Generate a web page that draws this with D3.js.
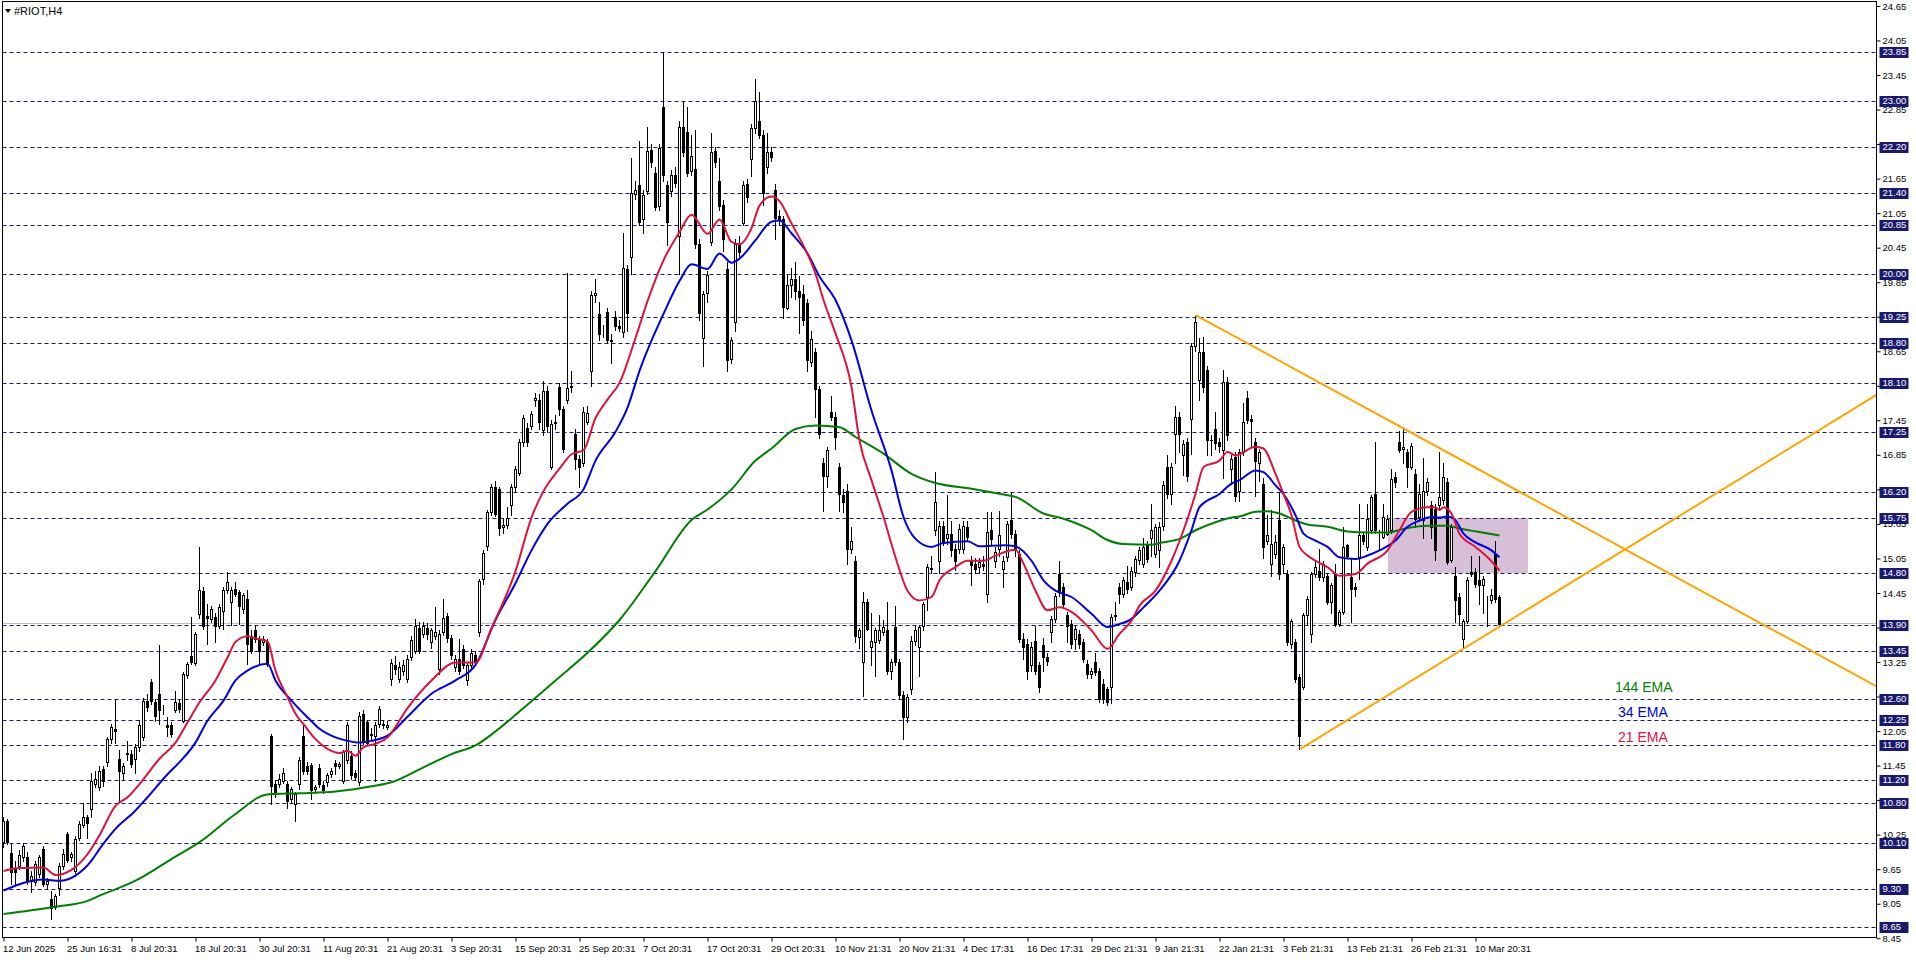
<!DOCTYPE html>
<html><head><meta charset="utf-8">
<script src="https://cdn.jsdelivr.net/npm/d3@7"></script>
<style>
html,body{margin:0;padding:0;background:#fff;overflow:hidden}
svg{display:block}
text{font-family:"Liberation Sans",Arial,sans-serif}
</style></head><body>
<svg id="c" width="1916" height="963"></svg>
<script>
// ---------- DATA ----------
const symbolTitle = "#RIOT,H4";
const open = [
10.12,10.49,9.93,9.67,9.71,9.86,9.87,9.45,9.42,9.57,
10.00,9.40,9.13,8.99,9.33,9.71,10.26,9.86,9.62,10.19,
10.41,10.55,10.70,11.13,11.07,11.39,11.51,11.91,12.08,11.56,
11.33,11.65,11.66,11.57,11.77,11.94,12.58,12.90,12.55,12.70,
12.41,12.16,12.15,12.41,12.53,12.23,13.03,13.36,13.23,14.09,
14.49,14.05,14.00,14.03,13.88,14.14,14.50,14.30,14.52,14.46,
14.18,14.35,13.71,13.80,13.65,13.60,13.60,11.97,11.13,11.13,
11.19,11.13,10.87,10.78,11.13,11.97,11.45,11.46,11.04,11.41,
11.11,11.16,11.30,11.49,11.45,11.19,11.54,11.62,11.33,11.16,
12.35,12.20,11.99,11.97,12.17,12.16,12.12,12.95,13.20,12.95,
13.10,12.95,13.34,13.45,13.84,13.73,13.84,13.59,13.70,13.13,
13.77,14.05,13.66,13.17,13.31,13.48,12.93,13.20,13.38,13.77,
14.69,15.26,15.86,16.29,16.25,15.60,15.63,15.97,16.29,16.54,
17.07,17.32,17.35,17.80,17.81,17.28,17.96,16.64,17.40,18.03,
17.64,17.81,18.03,17.21,16.78,16.70,17.42,18.31,19.62,19.30,
18.98,19.34,18.84,19.25,19.09,18.98,20.08,20.28,21.38,21.54,
20.94,21.43,22.14,21.75,21.18,22.89,21.54,21.43,21.72,20.65,
22.55,22.46,21.79,21.82,20.51,18.88,19.67,20.55,22.13,21.61,
21.20,20.08,18.52,19.16,20.51,20.88,21.56,21.99,22.53,22.65,
22.41,21.85,22.11,21.45,21.00,20.95,19.41,19.80,19.90,19.70,
19.65,19.48,18.46,18.64,18.00,16.70,16.49,17.60,17.51,16.64,
16.15,16.23,15.22,15.01,13.68,13.25,14.29,13.51,13.60,13.63,
13.77,13.80,13.10,13.86,13.25,12.67,12.29,12.78,13.62,13.51,
13.88,14.38,14.87,15.54,15.00,15.62,15.40,15.48,15.22,15.22,
15.22,15.60,15.01,14.96,14.90,14.95,14.43,15.54,15.00,15.22,
14.87,15.07,15.71,15.48,15.13,13.65,13.57,13.19,13.62,13.19,
13.54,13.33,13.77,14.00,14.78,14.55,14.06,13.91,13.65,13.74,
13.59,13.22,13.04,13.25,13.10,12.87,12.78,12.81,14.06,14.55,
14.43,14.64,14.55,14.81,15.02,14.96,15.28,15.41,15.13,15.19,
15.62,16.64,16.17,17.22,17.50,16.84,17.07,17.48,18.75,18.15,
18.64,18.32,17.11,17.30,17.07,16.93,18.12,16.61,16.81,16.23,
16.90,17.83,17.47,17.07,16.71,16.35,15.36,14.96,15.13,15.71,
14.96,14.78,13.57,13.59,12.99,12.81,14.06,13.74,14.78,14.84,
14.72,14.75,14.29,14.78,13.91,14.12,15.28,14.72,14.55,15.07,
15.45,15.25,15.54,16.17,15.50,15.42,15.48,15.54,16.46,17.07,
16.95,16.90,16.64,16.52,15.77,15.71,16.23,15.97,15.91,15.97,
16.06,16.38,15.02,14.75,14.38,13.65,13.97,14.81,14.81,14.67,
14.58,14.33,14.32,15.13,14.38];
const high = [
10.55,10.52,10.09,9.80,9.99,10.10,9.95,9.62,9.80,9.90,
10.05,9.50,9.28,9.22,9.76,10.00,10.30,9.95,10.22,10.48,
10.80,10.60,11.33,11.35,11.45,11.45,11.95,12.18,12.60,11.72,
11.50,11.88,11.72,11.82,12.25,12.62,12.70,12.95,12.60,13.54,
12.50,12.29,12.20,12.75,12.60,13.08,13.25,14.03,13.78,15.25,
14.55,14.26,14.22,14.10,14.25,14.55,14.81,14.55,14.64,14.50,
14.45,14.50,13.80,13.90,13.70,13.70,13.65,12.00,11.20,11.30,
11.40,11.18,11.08,11.00,11.60,12.17,11.52,11.50,11.12,11.48,
11.18,11.32,11.40,11.55,11.52,11.72,12.20,11.70,11.38,12.38,
12.42,12.25,12.10,12.20,12.48,12.25,12.22,13.30,13.35,13.25,
13.28,13.38,13.70,14.00,13.95,13.95,13.92,13.85,14.20,13.80,
14.35,14.10,13.72,13.38,13.65,13.55,13.25,13.48,13.45,14.70,
15.20,15.90,16.35,16.40,16.30,15.75,15.95,16.35,16.65,17.12,
17.55,17.40,17.62,17.92,17.90,18.13,18.05,17.45,17.55,18.10,
17.70,20.01,18.30,17.30,16.85,17.68,17.70,19.70,19.90,19.50,
19.10,19.40,18.95,19.35,19.20,20.70,20.15,22.00,21.60,22.30,
21.45,22.55,22.25,21.85,22.25,23.85,21.60,21.80,21.85,22.65,
23.00,22.90,22.40,22.50,20.60,19.70,20.05,22.45,22.20,22.00,
21.28,20.20,18.90,20.60,20.65,21.60,21.65,22.60,23.38,23.15,
22.50,22.45,22.20,21.55,21.10,21.00,20.00,20.10,20.20,19.95,
19.80,19.55,19.00,18.70,18.05,16.80,16.98,17.87,17.60,16.70,
16.25,16.35,15.60,15.10,13.85,14.47,14.35,14.10,13.85,14.07,
13.98,14.30,13.30,14.23,13.30,12.75,12.70,13.70,13.88,13.90,
14.30,14.95,15.10,16.55,15.70,15.70,16.16,15.70,15.30,15.65,
15.70,15.70,15.10,15.05,15.05,15.10,15.85,15.85,15.25,15.87,
15.10,15.70,16.20,15.55,15.20,13.75,13.65,13.60,13.87,13.25,
13.67,13.40,14.05,14.45,15.00,14.62,14.12,13.98,13.90,13.80,
13.65,13.28,13.15,13.40,13.15,12.95,12.82,14.08,14.30,14.62,
14.72,14.92,14.90,15.10,15.25,15.40,15.35,16.00,15.65,15.68,
16.40,16.85,16.70,17.70,17.60,17.10,17.15,18.80,19.27,18.88,
18.90,18.40,17.20,17.60,17.15,18.33,18.20,16.85,16.90,16.95,
17.75,17.96,17.55,17.15,16.95,16.45,15.80,15.90,15.45,16.20,
15.30,14.85,14.00,13.65,13.05,14.10,14.40,14.82,15.00,15.22,
15.00,14.80,14.62,14.95,14.15,15.60,15.30,15.05,14.62,16.00,
15.50,16.00,16.15,17.07,15.55,16.00,15.80,16.60,16.55,17.27,
17.30,16.95,17.05,16.60,16.35,16.80,16.45,16.05,16.00,16.90,
16.70,16.45,15.65,14.90,14.45,14.00,14.72,15.10,14.88,15.10,
14.75,14.40,14.52,15.36,14.42];
const low = [
10.03,10.08,9.39,9.39,9.66,9.80,9.40,9.25,9.38,9.52,
9.36,9.30,8.78,8.95,9.20,9.65,9.78,9.80,9.58,10.15,
10.38,10.20,10.55,11.08,11.02,11.10,11.45,11.85,11.85,10.81,
11.20,11.55,11.42,11.33,11.70,11.90,12.40,12.52,12.23,12.17,
12.35,11.97,11.95,12.38,12.38,12.20,12.98,13.22,13.20,14.02,
13.82,13.57,13.95,13.60,13.85,13.83,14.45,13.90,14.40,13.91,
14.10,13.22,13.40,13.60,13.22,13.55,13.18,10.79,10.90,11.08,
11.15,10.72,10.82,10.49,11.05,11.30,11.30,10.87,10.98,11.08,
10.98,11.10,11.25,11.30,11.40,11.15,11.50,11.22,11.20,11.12,
11.82,11.80,11.92,11.19,12.12,12.10,12.08,12.85,13.05,12.90,
13.02,12.90,13.28,13.40,13.40,13.68,13.65,13.50,13.65,13.05,
13.72,13.60,13.30,13.10,13.05,13.15,12.85,13.15,13.20,13.70,
14.60,15.20,15.80,15.78,15.45,15.50,15.58,15.80,16.20,16.50,
17.00,17.00,17.30,17.70,17.30,17.20,17.25,16.60,17.30,17.55,
16.90,17.75,17.95,16.60,16.30,16.65,17.38,18.05,19.50,18.85,
18.90,18.80,18.45,19.02,19.00,18.90,19.00,20.00,21.30,20.85,
20.70,21.38,21.85,21.10,21.10,21.60,20.50,21.35,21.50,20.00,
22.05,21.70,21.72,20.45,19.20,18.40,19.50,20.50,21.85,21.10,
20.40,18.30,18.45,19.00,20.30,20.85,21.25,21.70,22.45,22.35,
21.20,21.75,21.95,20.60,20.85,19.22,19.38,19.60,19.55,18.96,
19.10,18.30,18.40,17.50,17.15,15.87,16.30,17.45,16.96,15.87,
15.85,14.96,15.15,13.60,13.50,12.66,13.80,13.20,13.00,13.58,
13.72,13.05,12.95,13.20,12.60,11.92,12.20,12.70,13.55,13.00,
13.80,14.15,14.80,15.45,14.80,15.28,15.30,15.10,14.85,15.15,
15.15,15.35,14.59,14.80,14.80,14.85,14.30,15.30,14.90,15.10,
14.55,15.00,15.40,15.10,13.60,13.30,12.95,13.10,13.05,12.73,
13.10,13.20,13.59,13.95,14.40,14.20,13.60,13.50,13.48,13.50,
13.25,12.98,12.98,13.02,12.55,12.53,12.50,12.53,13.98,14.28,
14.38,14.45,14.50,14.75,14.95,14.90,14.98,15.10,15.08,14.90,
15.55,16.10,16.00,16.70,16.90,16.50,16.40,16.86,18.65,17.80,
17.95,16.84,16.85,16.95,16.90,16.45,17.10,16.35,16.05,16.05,
16.85,17.40,17.00,16.14,16.40,15.05,15.30,14.75,15.05,14.70,
14.80,13.55,13.50,12.90,11.74,12.78,13.90,13.60,14.72,14.68,
14.65,14.25,14.10,13.88,13.88,14.08,15.05,13.95,14.40,14.70,
15.30,15.20,15.50,15.50,15.20,15.40,15.45,15.50,16.30,16.90,
16.70,16.30,16.60,15.60,15.70,15.40,16.15,15.40,15.02,15.90,
16.00,14.95,14.98,13.95,13.90,13.50,13.92,14.75,14.55,14.25,
14.10,13.87,14.28,14.30,13.90];
const close = [
10.49,10.12,9.60,9.61,9.89,10.06,9.45,9.54,9.74,9.86,
9.39,9.45,8.97,9.19,9.71,9.91,9.81,9.91,10.18,10.44,
10.56,10.45,11.19,11.22,11.36,11.19,11.91,12.12,12.06,11.36,
11.45,11.67,11.48,11.77,12.15,12.58,12.46,12.58,12.32,12.41,
12.41,12.12,12.00,12.55,12.43,13.04,13.21,13.25,13.73,14.50,
13.88,14.02,14.17,13.88,14.21,14.50,14.64,14.50,14.43,14.23,
14.42,13.57,13.45,13.65,13.45,13.65,13.22,11.10,10.96,11.22,
11.33,10.84,11.04,10.96,11.55,11.36,11.36,11.02,11.07,11.13,
11.02,11.28,11.35,11.45,11.48,11.68,12.16,11.28,11.25,12.32,
11.88,11.85,12.00,12.16,12.43,12.18,12.16,13.24,13.13,13.17,
13.20,13.30,13.63,13.88,13.45,13.88,13.73,13.80,13.77,13.73,
14.02,13.66,13.38,13.31,13.10,13.20,13.20,13.41,13.27,14.66,
15.15,15.86,16.29,15.83,15.58,15.63,15.76,16.29,16.61,17.07,
17.49,17.07,17.56,17.84,17.42,17.96,17.35,17.39,17.42,17.64,
16.96,18.01,18.05,16.78,16.64,17.60,17.58,19.62,19.66,18.95,
18.98,18.84,18.82,19.09,19.06,20.10,19.32,21.40,21.45,20.90,
21.36,22.13,21.93,21.16,22.18,21.72,20.90,21.72,21.58,22.55,
22.11,21.75,22.05,20.51,19.32,19.64,19.98,22.11,21.93,21.18,
20.60,18.49,18.84,20.51,20.38,21.54,21.33,22.53,22.99,22.41,
21.40,22.11,22.02,20.97,20.95,19.42,19.80,19.90,19.70,19.60,
19.19,18.49,18.87,18.00,17.22,16.49,16.93,17.51,17.16,16.17,
16.03,15.22,15.36,13.71,13.80,14.29,13.83,13.62,13.80,13.80,
13.86,13.10,13.25,13.25,12.67,12.29,12.64,13.62,13.80,13.86,
14.26,14.90,14.88,16.03,15.62,15.33,15.48,15.19,15.00,15.57,
15.62,15.42,14.93,14.87,14.99,14.92,15.51,15.39,15.16,15.45,
15.01,15.64,15.48,15.19,13.65,13.51,13.10,13.51,13.10,12.81,
13.33,13.27,14.00,14.40,14.49,14.26,13.88,13.57,13.83,13.57,
13.30,13.04,13.10,13.07,12.61,12.61,12.55,14.03,14.05,14.43,
14.67,14.52,14.84,15.04,15.19,15.25,15.04,15.55,15.59,15.60,
16.32,16.17,16.64,17.51,17.22,17.04,16.49,18.75,19.16,18.64,
18.03,17.10,17.10,17.05,17.00,18.12,17.19,16.78,16.14,16.90,
17.42,17.45,17.44,16.75,16.90,15.25,15.45,15.30,15.33,14.78,
15.25,13.59,13.97,12.96,11.97,14.06,14.35,14.78,14.90,14.72,
14.96,14.29,14.58,13.91,14.12,15.25,15.10,14.52,14.52,15.45,
15.36,15.74,16.12,15.54,15.50,15.77,15.74,16.43,16.38,16.93,
16.98,16.64,17.00,15.74,16.17,16.23,16.38,15.60,15.19,16.12,
16.46,14.99,15.59,14.32,14.09,13.97,14.67,14.78,14.61,14.58,
14.69,14.33,14.41,14.35,13.91];

// EMA values: [bar index, price]
const ema21 = [[0,9.62],[4,9.67],[10,9.68],[13,9.55],[17,9.64],[21,9.91],[24,10.24],[28,10.75],[31,10.9],[34,11.13],[39,11.57],[43,11.85],[46,12.2],[49,12.55],[53,12.93],[56,13.33],[58,13.6],[61,13.7],[63,13.66],[66,13.61],[68,13.1],[71,12.64],[73,12.35],[75,12.17],[78,11.91],[81,11.74],[84,11.67],[86,11.71],[88,11.62],[90,11.77],[93,11.83],[96,11.94],[101,12.45],[107,12.93],[113,13.24],[118,13.24],[122,13.84],[128,14.83],[132,15.76],[135,16.22],[139,16.61],[142,16.86],[145,16.93],[148,17.49],[151,17.81],[154,18.1],[158,18.88],[161,19.52],[165,20.23],[169,20.72],[172,21.02],[176,20.69],[179,20.94],[182,20.55],[184,20.51],[187,20.79],[189,21.18],[192,21.34],[194,21.26],[197,20.87],[201,20.34],[203,20.0],[205,19.54],[208,18.96],[212,18.03],[214,17.1],[217,16.41],[220,15.77],[223,15.07],[226,14.49],[229,14.32],[232,14.38],[234,14.67],[238,14.9],[241,15.01],[245,15.01],[248,15.1],[253,15.2],[255,14.96],[258,14.49],[261,14.15],[264,14.2],[267,14.12],[272,13.8],[276,13.48],[279,13.74],[282,13.97],[284,14.23],[288,14.49],[292,15.01],[295,15.54],[298,16.17],[300,16.64],[304,16.75],[306,16.9],[308,16.84],[313,16.99],[315,16.96],[318,16.52],[320,16.17],[322,15.8],[324,15.25],[326,15.1],[328,15.01],[331,14.9],[334,14.75],[338,14.78],[341,14.96],[346,15.19],[349,15.54],[352,15.86],[356,15.94],[358,15.94],[359,15.89],[360,15.94],[362,15.83],[364,15.48],[368,15.25],[371,15.07],[374,14.84]];
const ema34 = [[0,9.28],[4,9.39],[10,9.47],[14,9.45],[18,9.54],[22,9.8],[24,10.0],[28,10.35],[33,10.67],[36,10.9],[41,11.3],[44,11.51],[48,11.85],[51,12.23],[55,12.58],[58,12.93],[61,13.1],[66,13.22],[68,12.93],[72,12.58],[76,12.29],[79,12.09],[83,11.94],[86,11.88],[89,11.85],[92,11.88],[96,11.97],[101,12.3],[107,12.7],[113,12.93],[118,13.2],[123,13.98],[128,14.62],[132,15.19],[136,15.65],[141,16.0],[145,16.25],[148,16.75],[153,17.25],[156,17.67],[159,18.31],[165,19.3],[169,19.87],[172,20.16],[176,20.08],[179,20.35],[182,20.19],[184,20.26],[188,20.58],[192,20.9],[194,20.92],[197,20.7],[201,20.35],[204,19.95],[208,19.54],[212,18.84],[217,17.62],[222,16.58],[225,15.77],[228,15.39],[232,15.25],[235,15.32],[241,15.35],[244,15.26],[250,15.28],[253,15.26],[257,15.01],[260,14.67],[263,14.49],[267,14.38],[272,14.09],[276,13.86],[278,13.89],[282,14.0],[285,14.2],[289,14.49],[294,15.01],[297,15.54],[299,15.94],[304,16.17],[307,16.35],[309,16.41],[313,16.58],[315,16.55],[318,16.32],[320,16.17],[323,15.8],[325,15.48],[328,15.36],[331,15.25],[334,15.07],[338,15.04],[341,15.1],[344,15.19],[348,15.36],[351,15.6],[354,15.71],[357,15.77],[359,15.76],[361,15.78],[363,15.71],[365,15.48],[368,15.33],[372,15.19],[374,15.07]];
const ema144 = [[0,8.87],[12,8.99],[21,9.1],[24,9.19],[33,9.45],[43,9.87],[49,10.12],[58,10.61],[66,10.95],[74,10.97],[83,11.0],[92,11.09],[97,11.16],[105,11.42],[112,11.65],[118,11.8],[124,12.1],[130,12.45],[138,12.93],[146,13.41],[154,13.98],[163,14.83],[172,15.72],[176,15.9],[182,16.25],[188,16.75],[192,16.96],[198,17.3],[203,17.36],[209,17.33],[213,17.16],[220,16.87],[227,16.52],[233,16.36],[242,16.26],[250,16.16],[253,16.12],[260,15.83],[265,15.74],[272,15.54],[276,15.37],[280,15.3],[287,15.29],[290,15.33],[294,15.39],[298,15.54],[303,15.68],[307,15.76],[309,15.78],[313,15.86],[316,15.87],[319,15.83],[323,15.71],[326,15.64],[331,15.6],[336,15.52],[341,15.5],[346,15.5],[351,15.58],[356,15.62],[361,15.62],[364,15.57],[369,15.51],[374,15.45]];

const levels = [23.85,23.00,22.20,21.40,20.85,20.00,19.25,18.80,18.10,17.25,16.20,15.75,14.80,13.90,13.45,12.60,12.25,11.80,11.20,10.80,10.10,9.30,8.65];
const priceTicks = [8.45,9.05,9.65,10.25,10.85,11.45,12.05,12.65,13.25,13.85,14.45,15.05,15.65,16.25,16.85,17.45,18.05,18.65,19.25,19.85,20.45,21.05,21.65,22.25,22.85,23.45,24.05,24.65];
const timeBars = [0,16,32,48,64,80,96,112,128,144,160,176,192,208,224,240,256,272,288,304,320,336,352,368];
const timeLabels = ["12 Jun 2025","25 Jun 16:31","8 Jul 20:31","18 Jul 20:31","30 Jul 20:31","11 Aug 20:31","21 Aug 20:31","3 Sep 20:31","15 Sep 20:31","25 Sep 20:31","7 Oct 20:31","17 Oct 20:31","29 Oct 20:31","10 Nov 21:31","20 Nov 21:31","4 Dec 17:31","16 Dec 17:31","29 Dec 21:31","9 Jan 21:31","22 Jan 21:31","3 Feb 21:31","13 Feb 21:31","26 Feb 21:31","10 Mar 20:31"];
const bidPrice = 13.93;
const zoneBars = [346, 381];
const zonePrices = [14.80, 15.75];
const trendUpper = [[298, 19.28], [379.25, 16.20]];
const trendLower = [[324.25, 11.74], [379.25, 14.09]];
const legendNames = ["144 EMA", "34 EMA", "21 EMA"];
const legendColors = ["#008000", "#0000E0", "#DC143C"];

// ---------- LAYOUT ----------
const W = 1916, H = 963;
const PL = 2.5, PR = 1876.5, PT = 1.5, PB = 937.5;
const svg = d3.select("#c");
svg.append("rect").attr("width", W).attr("height", H).attr("fill", "#fff");

const y = d3.scaleLinear().domain([8.45, 24.65]).range([52 + 15.4 * 57.55, 52 - 0.8 * 57.55]);
const x = d3.scaleLinear().domain([0, 374]).range([3.5, 3.5 + 4 * 374]);
const crisp = v => Math.round(v) + 0.5;

svg.append("defs").append("clipPath").attr("id", "pc")
  .append("rect").attr("x", PL).attr("y", PT).attr("width", PR - PL).attr("height", PB - PT);
const plot = svg.append("g").attr("clip-path", "url(#pc)");

// zone rectangle
plot.append("rect")
  .attr("x", Math.round(x(zoneBars[0]))).attr("width", Math.round(x(zoneBars[1]) - x(zoneBars[0])))
  .attr("y", Math.round(y(zonePrices[1]))).attr("height", Math.round(y(zonePrices[0]) - y(zonePrices[1])))
  .attr("fill", "#D8BFD8");

// level lines
plot.selectAll("line.lvl").data(levels).join("line").attr("class", "lvl")
  .attr("x1", PL).attr("x2", PR)
  .attr("y1", d => crisp(y(d))).attr("y2", d => crisp(y(d)))
  .attr("stroke", "#191970").attr("stroke-width", 1).attr("stroke-dasharray", "4,3");

// bid line
plot.append("line").attr("x1", PL).attr("x2", PR)
  .attr("y1", crisp(y(bidPrice))).attr("y2", crisp(y(bidPrice)))
  .attr("stroke", "#C0C0C0").attr("stroke-width", 1);

// candles
const idx = d3.range(open.length);
const cg = plot.append("g");
cg.selectAll("line.wick").data(idx).join("line").attr("class", "wick")
  .attr("x1", i => x(i)).attr("x2", i => x(i))
  .attr("y1", i => Math.round(y(high[i]))).attr("y2", i => Math.round(y(low[i])) + 1)
  .attr("stroke", "#000").attr("stroke-width", 1);
cg.selectAll("rect.body").data(idx).join("rect").attr("class", "body")
  .each(function (i) {
    const top = Math.round(y(Math.max(open[i], close[i])));
    const bot = Math.round(y(Math.min(open[i], close[i])));
    const s = d3.select(this);
    if (close[i] >= open[i]) {
      s.attr("x", x(i) - 1).attr("width", 2)
       .attr("y", top + 0.5).attr("height", Math.max(0, bot - top))
       .attr("fill", "#fff").attr("stroke", "#000").attr("stroke-width", 1);
    } else {
      s.attr("x", x(i) - 1.5).attr("width", 3)
       .attr("y", top).attr("height", Math.max(1, bot - top + 1))
       .attr("fill", "#000");
    }
  });

// EMAs
const line = d3.line().x(d => x(d[0])).y(d => y(d[1])).curve(d3.curveMonotoneX);
[[ema144, "#008000"], [ema34, "#0000E0"], [ema21, "#DC143C"]].forEach(([data, col]) => {
  plot.append("path").datum(data).attr("d", line)
    .attr("fill", "none").attr("stroke", col).attr("stroke-width", 2).attr("stroke-linejoin", "round");
});

// trendlines (rays)
const xEnd = x.invert(PR + 2);
[trendUpper, trendLower].forEach(t => {
  const [[b0, p0], [b1, p1]] = t;
  const slope = (p1 - p0) / (b1 - b0);
  plot.append("line")
    .attr("x1", x(b0)).attr("y1", y(p0))
    .attr("x2", x(xEnd)).attr("y2", y(p0 + slope * (xEnd - b0)))
    .attr("stroke", "#FFA500").attr("stroke-width", 2);
});

// legend texts
legendNames.forEach((n, i) => {
  svg.append("text").attr("x", i === 0 ? 1615 : 1618).attr("y", 692 + i * 25)
    .attr("font-size", 14).attr("fill", legendColors[i]).text(n);
});

// frame
svg.append("rect").attr("x", PL).attr("y", PT).attr("width", PR - PL).attr("height", PB - PT)
  .attr("fill", "none").attr("stroke", "#000").attr("stroke-width", 1);

// right price axis
const ya = svg.append("g").attr("transform", `translate(${PR},0)`)
  .call(d3.axisRight(y).tickValues(priceTicks).tickFormat(d3.format(".2f")).tickSize(4).tickSizeOuter(0).tickPadding(2));
ya.select(".domain").remove();
ya.selectAll("text").attr("font-family", "Liberation Sans, Arial, sans-serif").attr("font-size", 9.5).attr("fill", "#000");
ya.selectAll("line").attr("stroke", "#000");

// highlighted level labels
const lg = svg.append("g");
levels.forEach(l => {
  const cy = Math.round(y(l));
  lg.append("rect").attr("x", PR + 3).attr("y", cy - 5).attr("width", 29).attr("height", 11).attr("fill", "#191970");
  lg.append("text").attr("x", PR + 6).attr("y", cy).attr("dy", "0.35em")
    .attr("font-size", 9.5).attr("fill", "#fff").text(d3.format(".2f")(l));
});

// bottom time axis
const xa = svg.append("g").attr("transform", `translate(0,${PB})`)
  .call(d3.axisBottom(x).tickValues(timeBars).tickFormat((d, i) => timeLabels[i]).tickSize(4).tickSizeOuter(0).tickPadding(4));
xa.select(".domain").remove();
xa.selectAll("text").attr("text-anchor", "start").attr("x", -1)
  .attr("font-family", "Liberation Sans, Arial, sans-serif").attr("font-size", 9.5).attr("fill", "#000");
xa.selectAll("line").attr("stroke", "#000");

// title
svg.append("path").attr("d", "M5,9 L11,9 L8,13 Z").attr("fill", "#000");
svg.append("text").attr("x", 14).attr("y", 15).attr("font-size", 11).attr("fill", "#000").text(symbolTitle);
</script>
</body></html>
